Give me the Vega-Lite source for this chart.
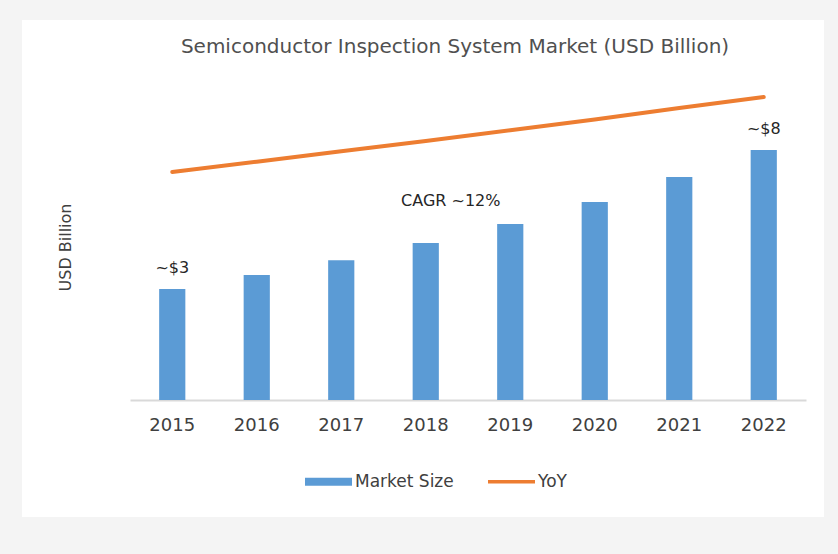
{
  "$schema": "https://vega.github.io/schema/vega-lite/v6.json",
  "width": 802,
  "height": 497,
  "autosize": "none",
  "padding": {"left": 22, "top": 20, "right": 14, "bottom": 37},
  "background": "#f4f4f4",
  "config": {
    "view": {"fill": "white", "stroke": null},
    "font": "DejaVu Sans"
  },
  "title": {
    "text": "Semiconductor Inspection System Market (USD Billion)",
    "font": "DejaVu Sans",
    "fontSize": 20,
    "fontWeight": "normal",
    "color": "#505050",
    "anchor": "middle",
    "baseline": "alphabetic",
    "offset": -53,
    "dx": 32
  },
  "datasets": {
    "market": [
      {"year": "2015", "series": "Market Size", "value": 3.0, "label": "~$3"},
      {"year": "2016", "series": "Market Size", "value": 3.38, "label": ""},
      {"year": "2017", "series": "Market Size", "value": 3.78, "label": ""},
      {"year": "2018", "series": "Market Size", "value": 4.24, "label": ""},
      {"year": "2019", "series": "Market Size", "value": 4.76, "label": ""},
      {"year": "2020", "series": "Market Size", "value": 5.35, "label": ""},
      {"year": "2021", "series": "Market Size", "value": 6.03, "label": ""},
      {"year": "2022", "series": "Market Size", "value": 6.76, "label": "~$8"}
    ],
    "yoy": [
      {"year": "2015", "series": "YoY", "value": 6.16},
      {"year": "2016", "series": "YoY", "value": 6.44},
      {"year": "2017", "series": "YoY", "value": 6.72},
      {"year": "2018", "series": "YoY", "value": 7.0},
      {"year": "2019", "series": "YoY", "value": 7.29},
      {"year": "2020", "series": "YoY", "value": 7.58},
      {"year": "2021", "series": "YoY", "value": 7.89},
      {"year": "2022", "series": "YoY", "value": 8.19}
    ],
    "notes": [
      {"year": "2018", "value": 4.24, "text": "CAGR ~12%"}
    ]
  },
  "encoding": {
    "x": {
      "field": "year",
      "type": "ordinal",
      "scale": {"range": [108, 784], "paddingInner": 0.69, "paddingOuter": 0.345},
      "axis": {
        "title": null,
        "offset": -117,
        "ticks": false,
        "tickSize": 0,
        "labelAngle": 0,
        "labelFont": "DejaVu Sans",
        "labelFontSize": 18,
        "labelColor": "#404040",
        "labelPadding": 16,
        "domainColor": "#d9d9d9",
        "domainWidth": 2,
        "grid": false
      }
    },
    "y": {
      "field": "value",
      "type": "quantitative",
      "scale": {"domain": [0, 10], "range": [380, 10], "nice": false, "zero": true},
      "axis": {
        "title": "USD Billion",
        "titleFont": "DejaVu Sans",
        "titleFontSize": 16,
        "titleFontWeight": "normal",
        "titleColor": "#404040",
        "titleAngle": 270,
        "titleAlign": "center",
        "titleBaseline": "middle",
        "titleX": 43,
        "titleY": 227,
        "labels": false,
        "ticks": false,
        "domain": false,
        "grid": false
      }
    }
  },
  "layer": [
    {
      "data": {"name": "market"},
      "mark": {"type": "bar"},
      "encoding": {
        "color": {
          "field": "series",
          "type": "nominal",
          "scale": {"domain": ["Market Size", "YoY"], "range": ["#5b9bd5", "#ed7d31"]},
          "legend": {
            "orient": "none",
            "legendX": 298,
            "legendY": 453,
            "direction": "horizontal",
            "title": null,
            "symbolSize": 2209,
            "symbolType": "M-1,-0.17H1V0.17H-1Z",
            "labelFont": "DejaVu Sans",
            "labelFontSize": 17,
            "labelColor": "#404040",
            "labelOffset": 18,
            "columnPadding": 27,
            "encode": {
              "symbols": {
                "update": {
                  "shape": {"signal": "datum.value === 'YoY' ? 'M-1,0H1' : 'M-1,-0.17H1V0.17H-1Z'"},
                  "fill": {"signal": "datum.value === 'YoY' ? 'transparent' : '#5b9bd5'"},
                  "stroke": {"signal": "datum.value === 'YoY' ? '#ed7d31' : 'transparent'"},
                  "strokeWidth": {"signal": "datum.value === 'YoY' ? 3.5 : 0"},
                  "opacity": {"value": 1}
                }
              }
            }
          }
        }
      }
    },
    {
      "data": {"name": "yoy"},
      "mark": {"type": "line", "strokeWidth": 4, "strokeCap": "round"},
      "encoding": {
        "color": {
          "field": "series",
          "type": "nominal",
          "scale": {"domain": ["Market Size", "YoY"], "range": ["#5b9bd5", "#ed7d31"]}
        }
      }
    },
    {
      "data": {"name": "market"},
      "mark": {"type": "text", "dy": -21, "baseline": "middle", "align": "center", "font": "DejaVu Sans", "fontSize": 16, "color": "#262626"},
      "encoding": {"text": {"field": "label"}}
    },
    {
      "data": {"name": "notes"},
      "mark": {"type": "text", "dy": -42, "dx": 25, "baseline": "middle", "align": "center", "font": "DejaVu Sans", "fontSize": 16, "color": "#262626"},
      "encoding": {"text": {"field": "text"}}
    }
  ]
}
